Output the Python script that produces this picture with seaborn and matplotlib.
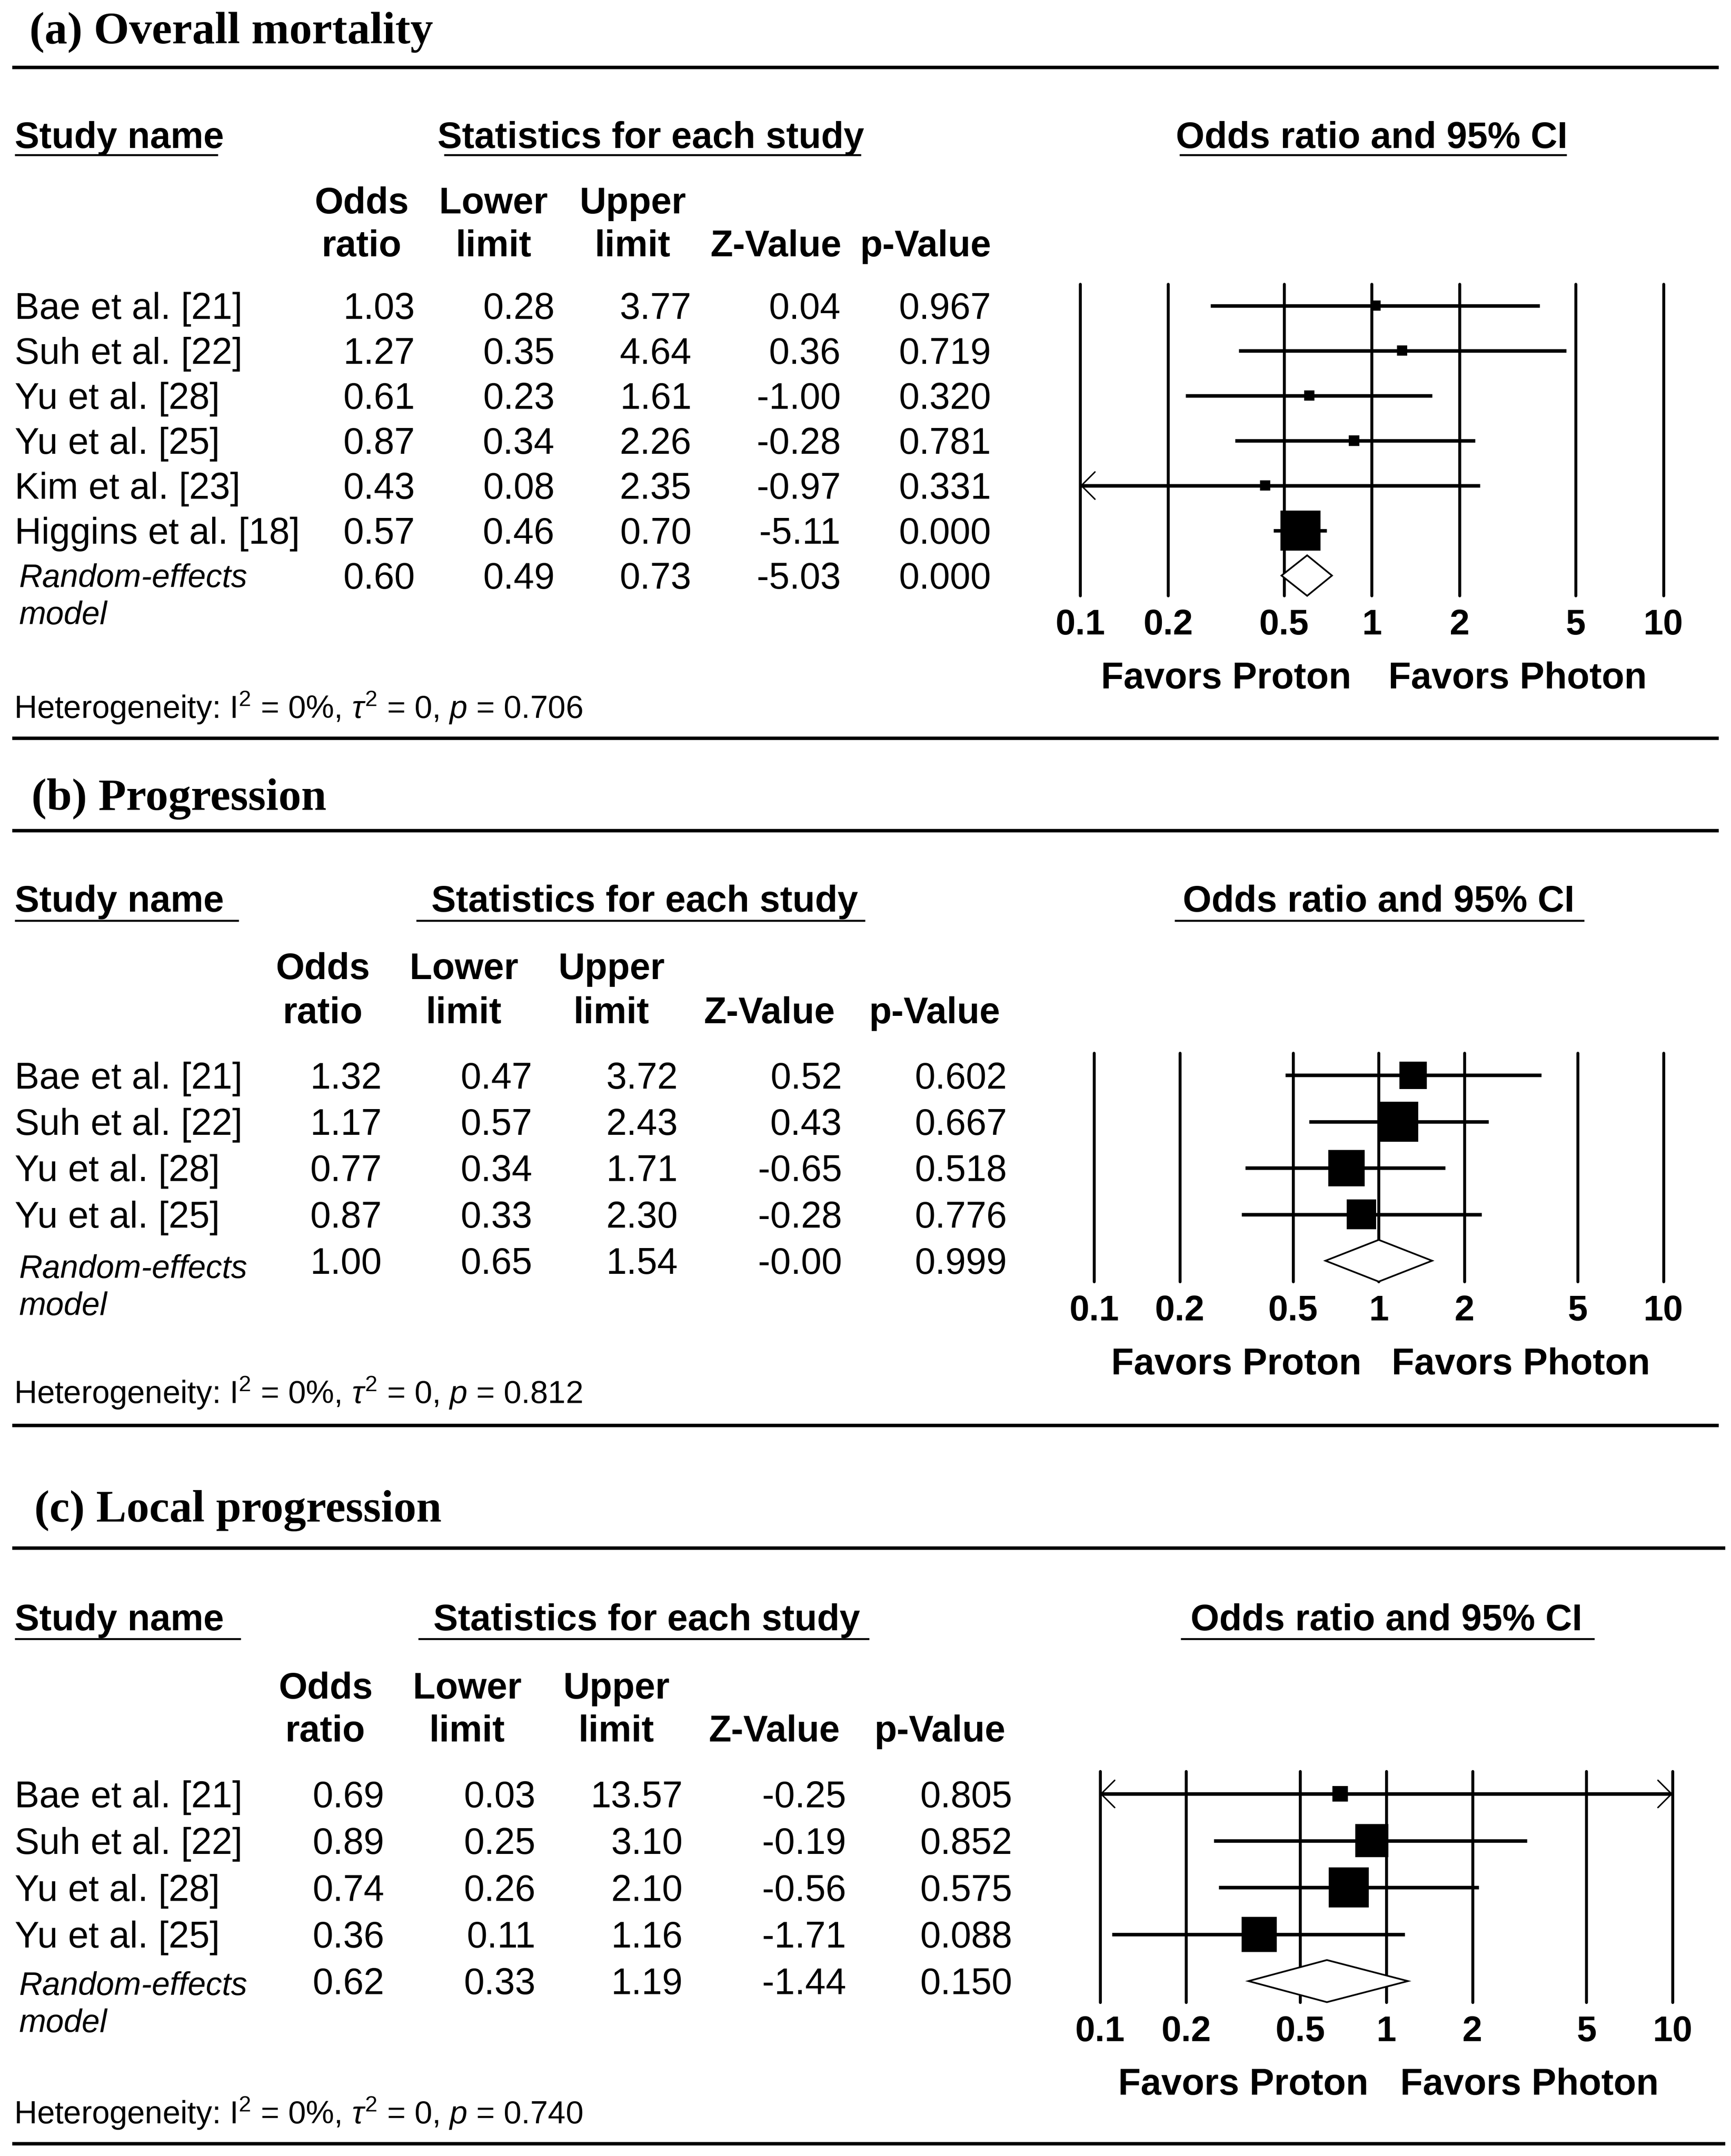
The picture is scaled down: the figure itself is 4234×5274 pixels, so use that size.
# -*- coding: utf-8 -*-
"""
Forest plots: proton vs photon therapy
(a) overall mortality, (b) progression, (c) local progression
"""

import numpy as np
import pandas as pd
import matplotlib
matplotlib.use("Agg")
import matplotlib.pyplot as plt
from matplotlib.lines import Line2D
from matplotlib.ticker import NullLocator
import seaborn as sns

# =========================
# DATA
# =========================

a_names = ["Bae et al. [21]", "Suh et al. [22]", "Yu et al. [28]",
           "Yu et al. [25]", "Kim et al. [23]", "Higgins et al. [18]"]
a_or = [1.03, 1.27, 0.61, 0.87, 0.43, 0.57]
a_lo = [0.28, 0.35, 0.23, 0.34, 0.08, 0.46]
a_hi = [3.77, 4.64, 1.61, 2.26, 2.35, 0.70]
a_z = [0.04, 0.36, -1.00, -0.28, -0.97, -5.11]
a_p = [0.967, 0.719, 0.320, 0.781, 0.331, 0.000]
a_wt = [5.0, 5.0, 5.1, 5.3, 4.9, 74.7]
a_re = [0.60, 0.49, 0.73, -5.03, 0.000]
a_het_p = 0.706

b_names = ["Bae et al. [21]", "Suh et al. [22]", "Yu et al. [28]", "Yu et al. [25]"]
b_or = [1.32, 1.17, 0.77, 0.87]
b_lo = [0.47, 0.57, 0.34, 0.33]
b_hi = [3.72, 2.43, 1.71, 2.30]
b_z = [0.52, 0.43, -0.65, -0.28]
b_p = [0.602, 0.667, 0.518, 0.776]
b_wt = [16.6, 35.2, 29.1, 19.1]
b_re = [1.00, 0.65, 1.54, -0.0, 0.999]
b_het_p = 0.812

c_names = ["Bae et al. [21]", "Suh et al. [22]", "Yu et al. [28]", "Yu et al. [25]"]
c_or = [0.69, 0.89, 0.74, 0.36]
c_lo = [0.03, 0.25, 0.26, 0.11]
c_hi = [13.57, 3.10, 2.10, 1.16]
c_z = [-0.25, -0.19, -0.56, -1.71]
c_p = [0.805, 0.852, 0.575, 0.088]
c_wt = [5.8, 26.3, 38.2, 29.6]
c_re = [0.62, 0.33, 1.19, -1.44, 0.150]
c_het_p = 0.740

ticks = [0.1, 0.2, 0.5, 1, 2, 5, 10]
tick_labels = ["0.1", "0.2", "0.5", "1", "2", "5", "10"]
col_heads = [("Odds", "ratio"), ("Lower", "limit"), ("Upper", "limit"),
             ("", "Z-Value"), ("", "p-Value")]

# =========================
# LAYOUT (reference units, 1 unit = K px)
# =========================

W, H, DPI = 4234, 5274, 100
K = W / 1254.0
SANS = "Liberation Sans"
SERIF = "Liberation Serif"
FS = 65          # table text
FS_RE = 57       # italic random-effects label
FS_TITLE = 80
FS_HET = 56
FS_TICK = 63
BOX_MAX = (98 * 72 / DPI) ** 2   # biggest square, pt^2
DH = 0.45                       # diamond half height (rows)

layout = {
    "a": dict(title="(a) Overall mortality", title_x=21.3, title_y=20.4,
              top_line=49, bot_line=535, line_x1=1245,
              head_y=97.6, ul_y=112.2, study_ul=(10.8, 158), stats_x=317,
              stats_ul=(321.7, 623.8), or_ul=(854.6, 1135),
              col1_y=145, col2_y=176,
              col_ctr=[262, 357.5, 458.4, 562, 670.5],
              col_right=[300.6, 401.8, 501, 609, 718],
              row0=221.4, dy=32.6, ax_x=(782.6, 1205), re_dy=0),
    "b": dict(title="(b) Progression", title_x=22.8, title_y=575.8,
              top_line=601.7, bot_line=1032.7, line_x1=1245,
              head_y=651, ul_y=667, study_ul=(10.8, 173), stats_x=312.4,
              stats_ul=(301.6, 626.7), or_ul=(850.8, 1147.7),
              col1_y=699.7, col2_y=731.7,
              col_ctr=[233.8, 336, 443, 557.5, 676.8],
              col_right=[276.5, 385.6, 491, 610, 729.5],
              row0=779, dy=33.6, ax_x=(792.6, 1205), re_dy=4),
    "c": dict(title="(c) Local progression", title_x=24.9, title_y=1091.6,
              top_line=1121.7, bot_line=1553, line_x1=1250,
              head_y=1171.5, ul_y=1187.5, study_ul=(10.8, 174.4), stats_x=314,
              stats_ul=(303, 629.7), or_ul=(855.4, 1155),
              col1_y=1221, col2_y=1252,
              col_ctr=[235.8, 338.4, 446.5, 561, 680.8],
              col_right=[278.5, 388, 494.6, 613, 733.3],
              row0=1299.7, dy=33.9, ax_x=(796.9, 1211.7), re_dy=1.5),
}

sns.set_theme(style="white")
plt.rcParams["font.family"] = [SANS, "DejaVu Sans"]
plt.rcParams["mathtext.fontset"] = "custom"
plt.rcParams["mathtext.rm"] = SANS
plt.rcParams["mathtext.it"] = SANS + ":italic"
plt.rcParams["mathtext.bf"] = SANS + ":bold"

fig = plt.figure(figsize=(W / DPI, H / DPI), dpi=DPI)
fig.patch.set_facecolor("white")


def fx(u):
    return u * K / W


def fy(u):
    return 1 - u * K / H


def put(x, yc, s, size=FS, ha="left", weight="normal", style="normal",
        family=SANS, cap=0.358):
    # yc is the visual centre of capitals/digits
    base = yc + cap * size * DPI / 72 / K
    fig.text(fx(x), fy(base), s, fontsize=size, ha=ha, va="baseline",
             fontweight=weight, fontstyle=style, family=family, color="black")


def hline(x0, x1, y, lw):
    fig.add_artist(Line2D([fx(x0), fx(x1)], [fy(y), fy(y)],
                          transform=fig.transFigure, color="black", lw=lw,
                          solid_capstyle="butt"))


def arrow(ax, tip, row, tail):
    ax.annotate("", xy=(tip, row), xytext=(tail, row),
                arrowprops=dict(arrowstyle="->,head_length=24,head_width=24",
                                lw=2.6, color="black", shrinkA=0, shrinkB=0,
                                mutation_scale=1), annotation_clip=False)


def forest(ax, ors, lo, hi, wts, re):
    n = len(ors)
    rows = np.arange(n)
    ax.set_xscale("log")
    for t in ticks:
        ax.axvline(t, color="black", lw=5.2, zorder=1, clip_on=False)

    lo_c = np.clip(lo, ticks[0], ticks[-1])
    hi_c = np.clip(hi, ticks[0], ticks[-1])
    ax.hlines(rows, lo_c, hi_c, color="black", lw=6.2, zorder=2)
    for r, l, h in zip(rows, lo, hi):
        if l < ticks[0]:
            arrow(ax, ticks[0], r, ticks[0] * 1.6)
        if h > ticks[-1]:
            arrow(ax, ticks[-1], r, ticks[-1] / 1.6)

    df = pd.DataFrame({"or": ors, "row": rows, "weight": wts})
    sns.scatterplot(data=df, x="or", y="row", size="weight",
                    sizes=(0, BOX_MAX), size_norm=(0, max(wts)),
                    marker="s", color="black", linewidth=0, legend=False,
                    ax=ax, zorder=3)

    est, l, h = re[0], re[1], re[2]
    ax.fill([l, est, h, est], [n, n - DH, n, n + DH], facecolor="white",
            edgecolor="black", lw=3, zorder=4, clip_on=False)

    ax.set_xlim(ticks[0], ticks[-1])
    ax.set_ylim(n + DH, -0.48)
    ax.set_xticks(ticks, labels=tick_labels, fontsize=FS_TICK, fontweight="bold")
    ax.xaxis.set_minor_locator(NullLocator())
    ax.tick_params(axis="x", length=0, pad=23, colors="black")
    ax.set_yticks([])
    ax.set_xlabel("")
    ax.set_ylabel("")
    ax.set_facecolor("none")
    sns.despine(ax=ax, left=True, bottom=True)


def panel(key, names, ors, lo, hi, z, p, wts, re, het_p):
    L = layout[key]
    n = len(names)

    put(L["title_x"], L["title_y"], L["title"], size=FS_TITLE, weight="bold",
        family=SERIF, cap=0.331)
    hline(9, L["line_x1"], L["top_line"], 6.1)
    hline(9, L["line_x1"], L["bot_line"], 6.1)

    # headers
    put(10.8, L["head_y"], "Study name", weight="bold")
    put(L["stats_x"], L["head_y"], "Statistics for each study", weight="bold")
    x0, x1 = L["ax_x"]
    put((x0 + x1) / 2, L["head_y"], "Odds ratio and 95% CI", ha="center",
        weight="bold")
    hline(*L["study_ul"], L["ul_y"], 3.4)
    hline(*L["stats_ul"], L["ul_y"], 3.4)
    hline(*L["or_ul"], L["ul_y"], 3.4)
    for (h1, h2), xc in zip(col_heads, L["col_ctr"]):
        if h1:
            put(xc, L["col1_y"], h1, ha="center", weight="bold")
        put(xc, L["col2_y"], h2, ha="center", weight="bold")

    # table rows
    ys = [L["row0"] + i * L["dy"] for i in range(n + 1)]
    xr = L["col_right"]
    for i in range(n):
        put(10.8, ys[i], names[i])
        vals = ["%.2f" % ors[i], "%.2f" % lo[i], "%.2f" % hi[i],
                "%.2f" % z[i], "%.3f" % p[i]]
        for v, x in zip(vals, xr):
            put(x, ys[i], v, ha="right")
    y_re = ys[n]
    put(13.7, y_re + L["re_dy"], "Random-effects", size=FS_RE, style="italic")
    put(13.7, y_re + L["re_dy"] + 27, "model", size=FS_RE, style="italic")
    vals = ["%.2f" % re[0], "%.2f" % re[1], "%.2f" % re[2],
            "%.2f" % re[3], "%.3f" % re[4]]
    for v, x in zip(vals, xr):
        put(x, y_re, v, ha="right")

    put(10, y_re + 95,
        r"Heterogeneity: I$^2$ = 0%, $\tau^2$ = 0, $p$ = " + "%.3f" % het_p,
        size=FS_HET)

    # forest plot
    top = L["row0"] - 0.48 * L["dy"]
    bottom = L["row0"] + (n + DH) * L["dy"]
    ax = fig.add_axes([fx(x0), fy(bottom), fx(x1) - fx(x0), (bottom - top) * K / H])
    forest(ax, ors, lo, hi, wts, re)

    put(x0 + 0.25 * (x1 - x0), bottom + 57.5, "Favors Proton", ha="center",
        weight="bold")
    put(x0 + 0.75 * (x1 - x0), bottom + 57.5, "Favors Photon", ha="center",
        weight="bold")


panel("a", a_names, a_or, a_lo, a_hi, a_z, a_p, a_wt, a_re, a_het_p)
panel("b", b_names, b_or, b_lo, b_hi, b_z, b_p, b_wt, b_re, b_het_p)
panel("c", c_names, c_or, c_lo, c_hi, c_z, c_p, c_wt, c_re, c_het_p)

fig.savefig("out.png", dpi=DPI, facecolor="white")
